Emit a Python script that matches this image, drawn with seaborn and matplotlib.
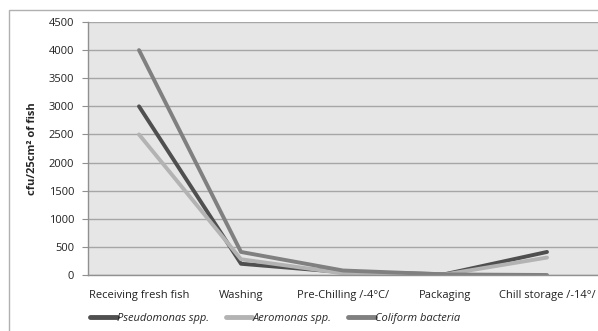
import matplotlib
matplotlib.use("Agg")
import matplotlib.pyplot as plt
import matplotlib.patches as mpatches
import pandas as pd
import seaborn as sns

stages = ["Receiving fresh fish", "Washing", "Pre-Chilling /-4°C/", "Packaging", "Chill storage /-14°/"]
pseudomonas = [3000, 200, 50, 15, 410]
aeromonas = [2500, 280, 30, 10, 310]
coliform = [4000, 410, 80, 10, 0]
series_names = ["Pseudomonas spp.", "Aeromonas spp.", "Coliform bacteria"]
series_colors = ["#4f4f4f", "#b3b3b3", "#808080"]
y_ticks = list(range(0, 4501, 500))

df = pd.DataFrame({
    "stage": stages * 3,
    "count": pseudomonas + aeromonas + coliform,
    "series": [series_names[0]] * 5 + [series_names[1]] * 5 + [series_names[2]] * 5,
})
df["pos"] = list(range(5)) * 3

sns.set_style("white")
plt.rcParams["font.family"] = ["Open Sans", "DejaVu Sans"]

fig = plt.figure(figsize=(5.98, 3.31), dpi=100)
# chart-area frame
fig.patches.append(mpatches.Rectangle((9 / 598, -0.1), 1.2, 1 - 10 / 331 + 0.1,
                                      transform=fig.transFigure, fill=False,
                                      edgecolor="#b0b0b0", linewidth=1.0))
ax = fig.add_axes([88 / 598, 1 - 275 / 331, 510 / 598, (275 - 22) / 331])
ax.set_facecolor("#e6e6e6")

sns.lineplot(data=df, x="pos", y="count", hue="series", hue_order=series_names,
             palette=series_colors, linewidth=2.8, ax=ax, legend=False, sort=False)

ax.set_xlim(-0.5, 4.5)
ax.set_ylim(0, 4500)
ax.set_yticks(y_ticks)
ax.set_yticklabels([str(v) for v in y_ticks], fontsize=8, color="#222222")
ax.set_xticks(range(5))
ax.set_xticklabels(stages, fontsize=8, color="#222222")
ax.tick_params(axis="x", length=0, pad=11)
ax.set_xticks([-0.5, 0.5, 1.5, 2.5, 3.5, 4.5], minor=True)
ax.tick_params(axis="x", which="minor", length=4, color="#909090", direction="out")
ax.tick_params(axis="y", length=4, color="#909090", direction="out", pad=6, left=True)
ax.yaxis.grid(True, color="#a6a6a6", linewidth=1.0)
ax.set_axisbelow(True)
for s in ["top", "right"]:
    ax.spines[s].set_visible(False)
for s in ["left", "bottom"]:
    ax.spines[s].set_color("#909090")
    ax.spines[s].set_linewidth(1.0)
ax.set_xlabel("")
ax.set_ylabel("cfu/25cm² of fish", fontsize=8, fontweight="bold", labelpad=8)

handles = [plt.Line2D([], [], color=c, linewidth=3.5) for c in series_colors]
fig.legend(handles, series_names, loc="center", bbox_to_anchor=(275 / 598, 1 - 318 / 331),
           ncol=3, frameon=False, handlelength=2.4, handletextpad=0.0, columnspacing=1.5,
           prop={"style": "italic", "size": 8})

fig.savefig("out.png", dpi=100)
